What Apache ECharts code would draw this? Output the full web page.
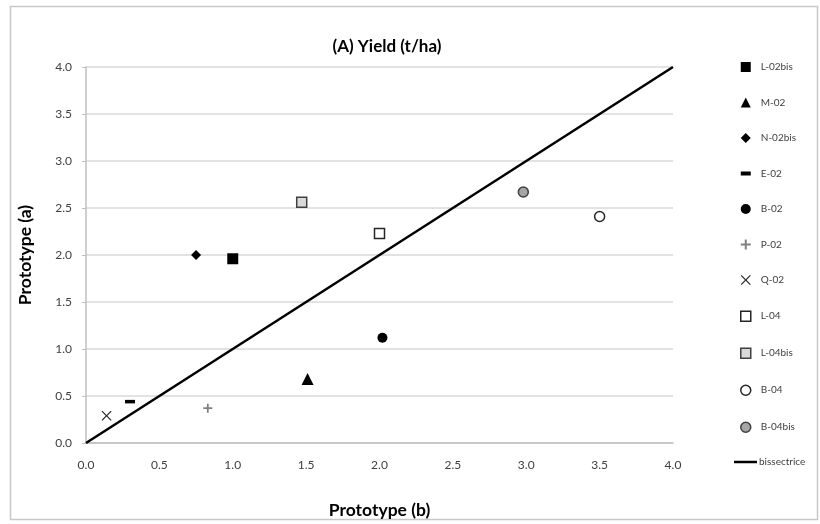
<!DOCTYPE html>
<html>
<head>
<meta charset="utf-8">
<script src="https://cdn.jsdelivr.net/npm/echarts@6/dist/echarts.min.js"></script>
<style>
html,body{margin:0;padding:0;background:#fff}
#main{width:820px;height:524px}
</style>
</head>
<body>
<div id="main"></div>
<script>
// one point per prototype : [Prototype (b), Prototype (a)]
var names=['L-02bis','M-02','N-02bis','E-02','B-02','P-02','Q-02','L-04','L-04bis','B-04','B-04bis']
var xb=[1.00,1.51,0.75,0.30,2.02,0.83,0.14,2.00,1.47,3.50,2.98]
var ya=[1.96,0.68,2.00,0.44,1.12,0.37,0.29,2.23,2.56,2.41,2.67]
var lineX=[0,4]
var lineY=[0,4]

var plus='path://M4,0H6V4H10V6H6V10H4V6H0V4H4Z'
var cross='path://M0,0.85L0.85,0L5,4.15L9.15,0L10,0.85L5.85,5L10,9.15L9.15,10L5,5.85L0.85,10L0,9.15L4.15,5Z'
var dash='path://M0,0H10V4H0Z'
//symbol, size, fill, border
var looks=[
	['rect',11,'#000','#000'],
	['triangle',12,'#000','#000'],
	['diamond',10,'#000','#000'],
	[dash,[10,3.5],'#000','#000'],
	['circle',10,'#000','#000'],
	[plus,9,'#808080','#808080'],
	[cross,10,'#262626','#262626'],
	['rect',10,'#fff','#262626'],
	['rect',10,'#d9d9d9','#404040'],
	['circle',10,'#fff','#262626'],
	['circle',10,'#a6a6a6','#404040']
]

var series=[]
var legendItems=[]
for(var i=0;i<names.length;i++){
	var st={color:looks[i][2],borderColor:looks[i][3],borderWidth:(looks[i][2]!=looks[i][3])?1.5:0,opacity:1}
	series.push({
		name:names[i],
		type:'scatter',
		symbol:looks[i][0],
		symbolSize:looks[i][1],
		itemStyle:st,
		data:[[xb[i],ya[i]]]
	})
	legendItems.push({name:names[i],icon:looks[i][0],itemStyle:st})
}
var ln=[]
for(var j=0;j<lineX.length;j++){ln.push([lineX[j],lineY[j]])}
series.push({
	name:'bissectrice',
	type:'line',
	symbol:'none',
	color:'#000',
	lineStyle:{color:'#000',width:2.5},
	data:ln,
	z:1
})

var lgText={fontFamily:'Lato',fontSize:10,color:'#404040',padding:[0,0,0,5]}
var mychart=echarts.init(document.getElementById('main'))
var option={
	animation:false,
	title:{
		text:'(A) Yield (t/ha)',
		left:382,
		top:33,
		textAlign:'center',
		textStyle:{fontFamily:'Lato',fontSize:17,fontWeight:'bold',color:'#000'}
	},
	legend:[{
		orient:'vertical',
		left:735,
		top:57,
		itemWidth:10,
		itemHeight:10,
		itemGap:25.5,
		symbolKeepAspect:true,
		textStyle:lgText,
		data:legendItems
	},{
		orient:'vertical',
		left:729,
		top:452,
		itemWidth:23,
		itemHeight:10,
		symbolKeepAspect:true,
		textStyle:{fontFamily:'Lato',fontSize:10,color:'#404040',padding:[0,0,0,-3]},
		data:[{name:'bissectrice',icon:'path://M0,0H23V2.5H0Z',itemStyle:{color:'#000'}}]
	}],
	grid:{left:86,right:147,top:67,bottom:81,containLabel:false},
	xAxis:{
		type:'value',
		min:0,max:4,interval:0.5,
		name:'Prototype (b)',
		nameLocation:'middle',
		nameGap:58,
		nameTextStyle:{fontFamily:'Lato',fontSize:17.5,fontWeight:'bold',color:'#000'},
		axisLine:{lineStyle:{color:'#bfbfbf',width:1.5}},
		axisTick:{show:false},
		splitLine:{show:false},
		axisLabel:{fontFamily:'Lato',fontSize:12,color:'#404040',margin:16,formatter:function(v){return v.toFixed(1)}}
	},
	yAxis:{
		type:'value',
		min:0,max:4,interval:0.5,
		name:'Prototype (a)',
		nameLocation:'middle',
		nameGap:52,
		nameTextStyle:{fontFamily:'Lato',fontSize:17.5,fontWeight:'bold',color:'#000'},
		axisLine:{show:true,lineStyle:{color:'#bfbfbf',width:1.5}},
		axisTick:{show:true,length:4,lineStyle:{color:'#bfbfbf'}},
		splitLine:{lineStyle:{color:'#d9d9d9',width:1.5}},
		axisLabel:{fontFamily:'Lato',fontSize:12,color:'#404040',margin:14,formatter:function(v){return v.toFixed(1)}}
	},
	graphic:[{
		type:'rect',
		shape:{x:10.5,y:6.5,width:807,height:513},
		style:{fill:'none',stroke:'#c8c8c8',lineWidth:1.5},
		silent:true
	}],
	series:series
}
mychart.setOption(option)
</script>
</body>
</html>
